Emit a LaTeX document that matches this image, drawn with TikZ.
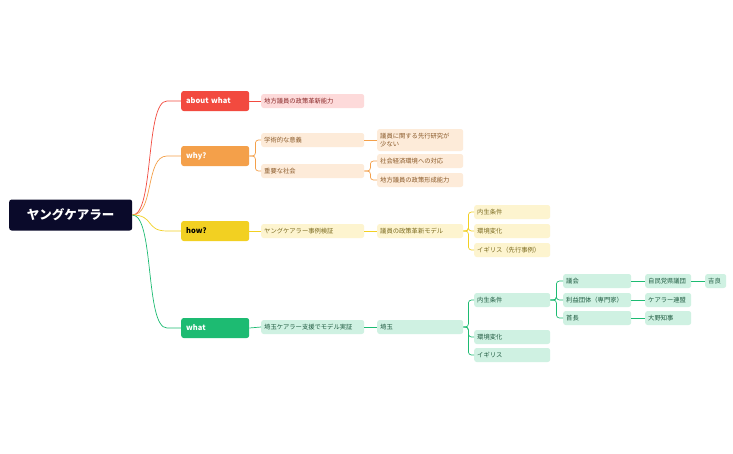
\documentclass[tikz,border=0pt]{standalone}
\usepackage{fontspec}
\setmainfont{Noto Sans CJK JP}
\usetikzlibrary{calc}
\definecolor{navy}{HTML}{0A0A2A}
\definecolor{cr}{HTML}{F24A3F}\definecolor{crl}{HTML}{FDDADA}\definecolor{crt}{HTML}{8A2A2A}
\definecolor{co}{HTML}{F4A04A}\definecolor{col}{HTML}{FDEBD9}\definecolor{cot}{HTML}{8A5A2A}
\definecolor{cy}{HTML}{F2D022}\definecolor{cyl}{HTML}{FDF4CF}\definecolor{cyt}{HTML}{7A6A20}
\definecolor{cg}{HTML}{1DBB72}\definecolor{cgl}{HTML}{CFF1E2}\definecolor{cgt}{HTML}{1F5A40}
\begin{document}
\begin{tikzpicture}[x=1pt,y=-1pt,
 box/.style={anchor=west,rounded corners=2.5pt,inner sep=0pt,inner xsep=3pt,minimum height=14pt,align=left,font=\fontsize{6.3}{7.5}\selectfont},
 w1/.style={text width=97pt},
 w2/.style={text width=80pt},
 w3/.style={text width=70pt},
 w4/.style={text width=62pt},
 w5/.style={text width=40pt},
 lv/.style={anchor=west,rounded corners=2.5pt,text width=58pt,inner xsep=5pt,minimum height=20pt,inner ysep=0pt,align=left,text=white,font=\fontsize{7.5}{9}\selectfont\bfseries},
 ln/.style={line width=0.7pt},
 el/.style={ln,rounded corners=3pt}]
\useasboundingbox[fill=white] (0,0) rectangle (733,453);
\node[anchor=west,fill=navy,rounded corners=2.5pt,minimum width=123pt,minimum height=31pt,text=white,font=\fontsize{12.5}{14}\selectfont\bfseries] (root) at (9,215) {ヤングケアラー};
\node[lv,fill=cr] (a) at (181,101) {about what};
\node[lv,fill=co] (b) at (181,156) {why?};
\node[lv,fill=cy,text=black] (c) at (181,231) {how?};
\node[lv,fill=cg] (d) at (181,328) {what};
\foreach \n/\c in {a/cr,b/co,c/cy,d/cg}
  \draw[ln,draw=\c] (root.east) .. controls +(22,0) and +(-22,0) .. ($(\n.west)+(-14,0)$) -- (\n.west);
% about
\node[box,w1,fill=crl,text=crt] (a1) at (261,101) {地方議員の政策革新能力};
\draw[ln,cr] (a.east) -- (a1.west);
% why
\node[box,w1,fill=col,text=cot] (b1) at (261,140) {学術的な意義};
\node[box,w1,fill=col,text=cot] (b2) at (261,171) {重要な社会};
\node[box,w2,fill=col,text=cot,minimum height=22pt] (b11) at (377,140) {議員に関する先行研究が\\少ない};
\node[box,w2,fill=col,text=cot] (b21) at (377,161) {社会経済環境への対応};
\node[box,w2,fill=col,text=cot] (b22) at (377,180) {地方議員の政策形成能力};
\draw[el,co] (b.east) -- ++(6,0) |- (b1.west);
\draw[el,co] (b.east) -- ++(6,0) |- (b2.west);
\draw[ln,co] (b1.east) -- (b11.west);
\draw[el,co] (b2.east) -- ++(6,0) |- (b21.west);
\draw[el,co] (b2.east) -- ++(6,0) |- (b22.west);
% how
\node[box,w1,fill=cyl,text=cyt] (c1) at (261,231) {ヤングケアラー事例検証};
\node[box,w2,fill=cyl,text=cyt] (c2) at (377,231) {議員の政策革新モデル};
\node[box,w3,fill=cyl,text=cyt] (c21) at (474,212) {内生条件};
\node[box,w3,fill=cyl,text=cyt] (c22) at (474,231) {環境変化};
\node[box,w3,fill=cyl,text=cyt] (c23) at (474,250) {イギリス（先行事例）};
\draw[ln,cy] (c.east) -- (c1.west);
\draw[ln,cy] (c1.east) -- (c2.west);
\foreach \k in {c21,c22,c23} \draw[el,cy] (c2.east) -- ++(5,0) |- (\k.west);
% what
\node[box,w1,fill=cgl,text=cgt] (d1) at (261,327) {埼玉ケアラー支援でモデル実証};
\node[box,w2,fill=cgl,text=cgt] (d2) at (377,327) {埼玉};
\node[box,w3,fill=cgl,text=cgt] (d21) at (474,300) {内生条件};
\node[box,w3,fill=cgl,text=cgt] (d22) at (474,337) {環境変化};
\node[box,w3,fill=cgl,text=cgt] (d23) at (474,355) {イギリス};
\node[box,w4,fill=cgl,text=cgt] (e1) at (563,281) {議会};
\node[box,w4,fill=cgl,text=cgt] (e2) at (563,300) {利益団体（専門家）};
\node[box,w4,fill=cgl,text=cgt] (e3) at (563,318) {首長};
\node[box,w5,fill=cgl,text=cgt] (f1) at (645,281) {自民党県議団};
\node[box,w5,fill=cgl,text=cgt] (f2) at (645,300) {ケアラー連盟};
\node[box,w5,fill=cgl,text=cgt] (f3) at (645,318) {大野知事};
\node[box,text width=15pt,fill=cgl,text=cgt] (g1) at (705,281) {吉良};
\draw[ln,cg] (d.east) -- (d1.west);
\draw[ln,cg] (d1.east) -- (d2.west);
\foreach \k in {d21,d22,d23} \draw[el,cg] (d2.east) -- ++(5,0) |- (\k.west);
\foreach \k in {e1,e2,e3} \draw[el,cg] (d21.east) -- ++(6,0) |- (\k.west);
\draw[ln,cg] (e1.east) -- (f1.west);
\draw[ln,cg] (e2.east) -- (f2.west);
\draw[ln,cg] (e3.east) -- (f3.west);
\draw[ln,cg] (f1.east) -- (g1.west);
\end{tikzpicture}
\end{document}
